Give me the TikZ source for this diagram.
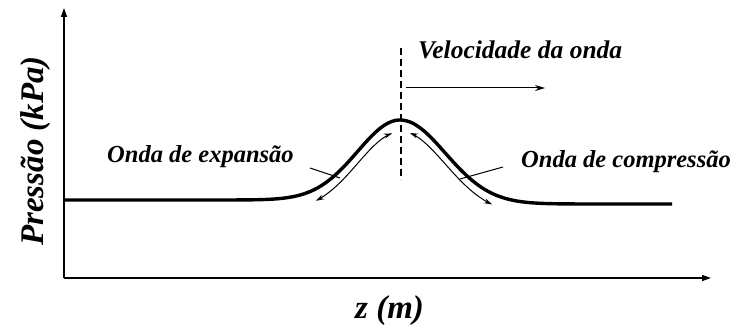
\documentclass[tikz,border=0pt]{standalone}
\usepackage{fontspec}
\setmainfont{Liberation Serif}
\usetikzlibrary{arrows.meta}
\tikzset{
  axisline/.style={line width=1.4pt, -{Triangle[length=9pt,width=6pt]}},
  wave/.style={line width=3.4pt, line join=round},
  thinarrow/.style={line width=1pt, {Stealth[length=8pt,width=5pt]}-{Stealth[length=8pt,width=5pt]}},
  leader/.style={line width=1pt},
  lbl/.style={inner sep=0pt, font=\fontsize{24.5}{28}\selectfont\bfseries\itshape},
  biglbl/.style={inner sep=0pt, font=\fontsize{33}{38}\selectfont\bfseries\itshape},
}
\begin{document}
\begin{tikzpicture}[x=1pt,y=-1pt]
\useasboundingbox (0,0) rectangle (734,331);
% axes
\coordinate (O) at (64,278);
\coordinate (ytop) at (64,8);
\coordinate (xend) at (711,278);
\draw[axisline] (O) -- (ytop);
\draw[axisline] (O) -- (xend);
% labels of axes
\node[biglbl, rotate=90, anchor=base west] (ylab) at (43,246) {Pressão (kPa)};
\node[biglbl, anchor=base west] (xlab) at (355,318) {z (m)};
% wave
\draw[wave] plot[domain=64:400, samples=120, smooth] (\x, {200-80*exp(-((\x-400)/60)*((\x-400)/60))})
            -- plot[domain=400:672, samples=120, smooth] (\x, {204-84*exp(-((\x-400)/64)*((\x-400)/64))});
% inner arrows
\draw[thinarrow] plot[domain=316:392, samples=60, smooth] (\x, {212-80*exp(-((\x-400)/60)*((\x-400)/60))});
\draw[thinarrow] plot[domain=410:492, samples=60, smooth] (\x, {215-84*exp(-((\x-400)/64)*((\x-400)/64))});
% dashed centre line
\coordinate (dtop) at (401,48);
\coordinate (dbot) at (401,180);
\draw[line width=1.4pt, dash pattern=on 7pt off 4pt] (dtop) -- (dbot);
% velocity
\node[lbl, anchor=base west, font=\fontsize{25.5}{29}\selectfont\bfseries\itshape] (vel) at (418,59) {Velocidade da onda};
\coordinate (vs) at (406,88);
\coordinate (ve) at (545,88);
\draw[line width=1pt, -{Stealth[length=10pt,width=6pt]}] (vs) -- (ve);
% expansion
\node[lbl, anchor=base west] (exp) at (107,163) {Onda de expansão};
\coordinate (e1) at (310,168);
\coordinate (e2) at (340,178);
\draw[leader] (e1) -- (e2);
% compression
\node[lbl, anchor=base west] (comp) at (521,168) {Onda de compressão};
\coordinate (c1) at (503,167);
\coordinate (c2) at (460,179);
\draw[leader] (c1) -- (c2);
\end{tikzpicture}
\end{document}
